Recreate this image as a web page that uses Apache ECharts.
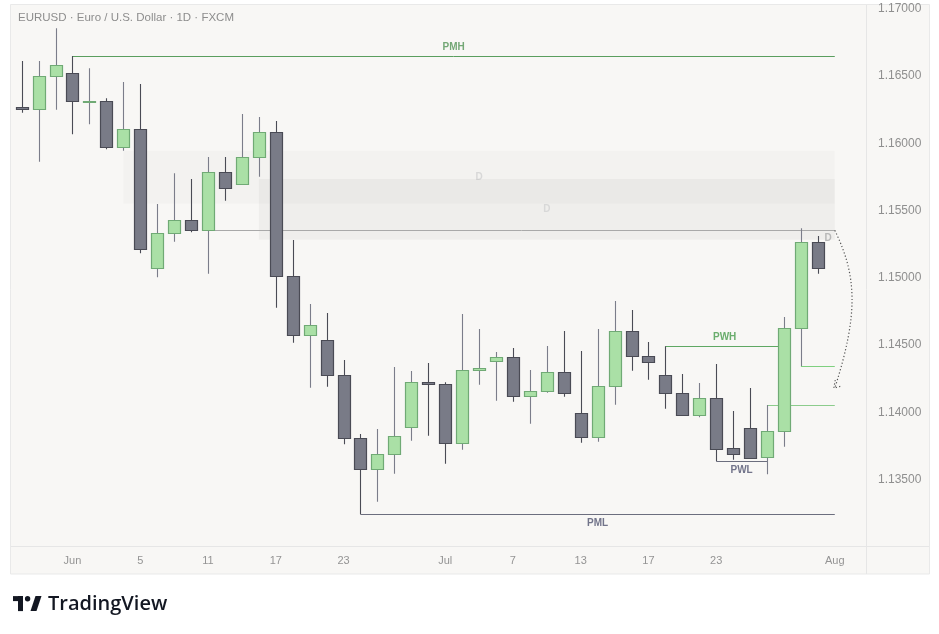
<!DOCTYPE html>
<html>
<head>
<meta charset="utf-8">
<script src="https://cdn.jsdelivr.net/npm/echarts@6/dist/echarts.min.js"></script>
<style>
html,body{margin:0;padding:0;background:#ffffff;}
#chart{width:939px;height:634px;}
</style>
</head>
<body>
<div id="chart"></div>
<script>
// ---- categories (trading days) ----
const dates = [
 '2026-05-27','2026-05-28','2026-05-29',
 '2026-06-01','2026-06-02','2026-06-03','2026-06-04','2026-06-05',
 '2026-06-08','2026-06-09','2026-06-10','2026-06-11','2026-06-12',
 '2026-06-15','2026-06-16','2026-06-17','2026-06-18','2026-06-19',
 '2026-06-22','2026-06-23','2026-06-24','2026-06-25','2026-06-26',
 '2026-06-29','2026-06-30','2026-07-01','2026-07-02','2026-07-03',
 '2026-07-06','2026-07-07','2026-07-08','2026-07-09','2026-07-10',
 '2026-07-13','2026-07-14','2026-07-15','2026-07-16','2026-07-17',
 '2026-07-20','2026-07-21','2026-07-22','2026-07-23','2026-07-24',
 '2026-07-27','2026-07-28','2026-07-29','2026-07-30','2026-07-31',
 '2026-08-03','2026-08-04'
];
// ---- OHLC ----
const opens  = [1.16267,1.16252,1.16498,1.16520,1.16313,1.16312,1.15970,1.16104,1.15071,1.15331,1.15428,1.15353,1.15784,1.15695,1.15896,1.16082,1.15011,1.14573,1.14536,1.14276,1.13808,1.13577,1.13689,1.13889,1.14224,1.14209,1.13770,1.14313,1.14380,1.14410,1.14120,1.14157,1.14298,1.13993,1.13815,1.14194,1.14603,1.14417,1.14276,1.14142,1.13979,1.14105,1.13733,1.13882,1.13666,1.13860,1.14625,1.15264];
const highs  = [1.16611,1.16611,1.16854,1.16649,1.16557,1.16334,1.16455,1.16440,1.15549,1.15777,1.15734,1.15898,1.15898,1.16218,1.16195,1.16166,1.15281,1.14806,1.14739,1.14389,1.13840,1.13877,1.14337,1.14308,1.14367,1.14224,1.14731,1.14620,1.14449,1.14479,1.14315,1.14494,1.14605,1.14456,1.14620,1.14828,1.14761,1.14523,1.14491,1.14285,1.14219,1.14360,1.14010,1.14181,1.14055,1.14709,1.15368,1.15311];
const lows   = [1.16227,1.15863,1.16249,1.16067,1.16141,1.15955,1.15945,1.15182,1.15004,1.15269,1.15338,1.15031,1.15573,1.15690,1.15752,1.14778,1.14518,1.14184,1.14191,1.13763,1.13243,1.13336,1.13545,1.13790,1.13827,1.13619,1.13723,1.14206,1.14087,1.14080,1.13916,1.14146,1.14117,1.13775,1.13782,1.14057,1.14310,1.14243,1.14028,1.13976,1.13964,1.13639,1.13649,1.13660,1.13540,1.13745,1.14345,1.15031];
const closes = [1.16252,1.16498,1.16579,1.16314,1.16315,1.15970,1.16104,1.15212,1.15331,1.15428,1.15353,1.15784,1.15665,1.15896,1.16082,1.15011,1.14573,1.14647,1.14276,1.13808,1.13577,1.13689,1.13822,1.14224,1.14209,1.13770,1.14313,1.14328,1.14410,1.14120,1.14157,1.14298,1.14142,1.13815,1.14194,1.14603,1.14417,1.14372,1.14142,1.13979,1.14105,1.13730,1.13689,1.13663,1.13860,1.14625,1.15264,1.15071];

// ---- x tick labels ----
const tickDates = ['2026-06-01','2026-06-05','2026-06-11','2026-06-17','2026-06-23','2026-07-01','2026-07-07','2026-07-13','2026-07-17','2026-07-23','2026-08-03'];
const tickTexts = ['Jun','5','11','17','23','Jul','7','13','17','23','Aug'];

// ---- y axis ----
const yMin = 1.13, yMax = 1.17, yStep = 0.005;

// ---- horizontal levels ----
const levelLabels = ['PMH','D','PML','PWH','PWL','',''];
const levelStart  = ['2026-06-01','2026-06-11','2026-06-24','2026-07-20','2026-07-23','2026-07-28','2026-07-30'];
const levelEnd    = ['2026-08-03','2026-08-03','2026-08-03','2026-07-29','2026-07-28','2026-08-03','2026-08-03'];
const levelPrices = [1.16649,1.15353,1.13243,1.14491,1.13639,1.14055,1.14345];

// ---- zones ----
const zoneLabels = ['D','D'];
const zoneStart  = ['2026-06-04','2026-06-16'];
const zoneEnd    = ['2026-08-03','2026-08-03'];
const zoneTop    = [1.15945,1.15734];
const zoneBottom = [1.15551,1.15283];

// ---- projected move arrow ----
const arrowDate = '2026-08-03';
const arrowFrom = 1.15353;
const arrowTo   = 1.14181;

// ---- styles ----
const levelStyles = [
  {color:'#5a9e5e', width:1, pos:'midTop',  text:'#74a876'},
  {color:'#a9a9a9', width:1, pos:'endBottom', text:'#b8b8b8'},
  {color:'#6c6e7e', width:1.2, pos:'midBottom', text:'#72748a'},
  {color:'#5fa863', width:1, pos:'midTop', text:'#6aad6d'},
  {color:'#6c6e7e', width:1, pos:'midBottom', text:'#72748a'},
  {color:'#8ccc8c', width:1, pos:'none', text:'#8ccc8c'},
  {color:'#7fd07f', width:1, pos:'none', text:'#7fd07f'}
];
const zoneFills = ['rgba(0,0,0,0.018)','rgba(0,0,0,0.034)'];
const FONT = 'Liberation Sans, Arial, sans-serif';

const candleData = opens.map((o,i)=>[i,o,closes[i],lows[i],highs[i]]);
const levelData = levelPrices.map((p,i)=>[dates.indexOf(levelStart[i]), dates.indexOf(levelEnd[i]), p, i]);
const zoneData = zoneTop.map((t,i)=>[dates.indexOf(zoneStart[i]), dates.indexOf(zoneEnd[i]), t, zoneBottom[i], i]);
const arrowData = [[dates.indexOf(arrowDate), arrowFrom, arrowTo]];

const chart = echarts.init(document.getElementById('chart'), null, {renderer:'canvas'});

const option = {
  backgroundColor:'#ffffff',
  animation:false,
  title:{
    text:'EURUSD · Euro / U.S. Dollar · 1D · FXCM',
    left:18, top:12, padding:0,
    textStyle:{fontFamily:FONT, fontSize:11.5, fontWeight:'normal', color:'#8d8d8d'}
  },
  grid:{left:13.2, right:78.8, top:8.7, bottom:87, containLabel:false},
  xAxis:{
    type:'category', data:dates, boundaryGap:true,
    axisLine:{show:false}, axisTick:{show:false}, splitLine:{show:false},
    axisLabel:{
      interval:(idx,val)=>tickDates.indexOf(val)>=0,
      formatter:(val)=>{const k=tickDates.indexOf(val);return k>=0?tickTexts[k]:'';},
      color:'#949494', fontSize:11, fontFamily:FONT, margin:8
    }
  },
  yAxis:{
    type:'value', position:'right', min:yMin, max:yMax, interval:yStep, scale:true,
    axisLine:{show:false}, axisTick:{show:false}, splitLine:{show:false},
    axisLabel:{
      formatter:(v)=>v.toFixed(5), showMinLabel:false, showMaxLabel:true,
      color:'#8f8f8f', fontSize:12, fontFamily:FONT, margin:17.8
    }
  },
  graphic:[
    {type:'rect', z:-10, silent:true, shape:{x:10.5,y:4.5,width:919,height:569.5}, style:{fill:'#f8f7f5', stroke:'#e9e9e9', lineWidth:1}},
    {type:'line', z:-9, silent:true, shape:{x1:866.5,y1:5,x2:866.5,y2:574}, style:{stroke:'#e6e6e6', lineWidth:1}},
    {type:'line', z:-9, silent:true, shape:{x1:11,y1:546.5,x2:929,y2:546.5}, style:{stroke:'#e6e6e6', lineWidth:1}},
    // TradingView logo
    {type:'group', left:13, top:596, silent:true, children:[
      {type:'rect', shape:{x:0,y:0,width:10,height:5}, style:{fill:'#131722'}},
      {type:'rect', shape:{x:5,y:0,width:5,height:15}, style:{fill:'#131722'}},
      {type:'circle', shape:{cx:14.6,cy:2.6,r:2.7}, style:{fill:'#131722'}},
      {type:'polygon', shape:{points:[[17.5,15],[22.5,0],[28.5,0],[23.5,15]]}, style:{fill:'#131722'}}
    ]},
    {type:'text', silent:true, style:{text:'TradingView', x:48, y:604, verticalAlign:'middle', font:'600 20px "Open Sans", sans-serif', fill:'#131722'}}
  ],
  series:[
    { // zones
      type:'custom', z:1, silent:true, data:zoneData, clip:true,
      renderItem:(params, api)=>{
        const a = api.coord([api.value(0), api.value(2)]);
        const b = api.coord([api.value(1), api.value(3)]);
        const i = api.value(4);
        return {type:'group', children:[
          {type:'rect', shape:{x:a[0], y:a[1], width:b[0]-a[0], height:b[1]-a[1]}, style:{fill:zoneFills[i]}},
          {type:'text', style:{text:zoneLabels[i], x:(a[0]+b[0])/2, y:(a[1]+b[1])/2, align:'center', verticalAlign:'middle', font:'bold 10px '+FONT, fill:'#d8d8d8'}}
        ]};
      }
    },
    { // levels
      type:'custom', z:2, silent:true, data:levelData, clip:true,
      renderItem:(params, api)=>{
        const i = api.value(3);
        const a = api.coord([api.value(0), api.value(2)]);
        const b = api.coord([api.value(1), api.value(2)]);
        const st = levelStyles[i];
        const y = Math.round(a[1]) + 0.5;
        const ch = [{type:'line', shape:{x1:a[0], y1:y, x2:b[0], y2:y}, style:{stroke:st.color, lineWidth:st.width}}];
        const f = 'bold 10px '+FONT;
        if (st.pos==='midTop') ch.push({type:'text', style:{text:levelLabels[i], x:(a[0]+b[0])/2, y:y-9, align:'center', verticalAlign:'middle', font:f, fill:st.text}});
        if (st.pos==='midBottom') ch.push({type:'text', style:{text:levelLabels[i], x:(a[0]+b[0])/2, y:y+8.5, align:'center', verticalAlign:'middle', font:f, fill:st.text}});
        if (st.pos==='endBottom') ch.push({type:'text', style:{text:levelLabels[i], x:b[0]-3, y:y+8, align:'right', verticalAlign:'middle', font:f, fill:st.text}});
        return {type:'group', children:ch};
      }
    },
    { // candles
      type:'custom', z:3, silent:true, data:candleData, clip:true,
      renderItem:(params, api)=>{
        const idx = api.value(0), o = api.value(1), c = api.value(2), l = api.value(3), h = api.value(4);
        const po = api.coord([idx, o]), pc = api.coord([idx, c]), pl = api.coord([idx, l]), ph = api.coord([idx, h]);
        const cx = Math.round(po[0]);
        const up = c >= o;
        const top = Math.round(Math.min(po[1], pc[1])) + 0.5;
        const bot = Math.round(Math.max(po[1], pc[1])) + 0.5;
        const hgt = Math.max(bot - top, 1);
        return {type:'group', children:[
          {type:'line', shape:{x1:cx+0.5, y1:ph[1], x2:cx+0.5, y2:pl[1]}, style:{stroke: up ? '#7b7d8a' : '#4a4b55', lineWidth:1.1}},
          {type:'rect', shape:{x:cx-5.5, y:top, width:12, height:hgt}, style:{fill: up ? '#aae0a6' : '#797b87', stroke: up ? '#70aa75' : '#4a4b55', lineWidth:1.2}}
        ]};
      }
    },
    { // projected-move arrow
      type:'custom', z:4, silent:true, data:arrowData, clip:false,
      renderItem:(params, api)=>{
        const p0 = api.coord([api.value(0), api.value(1)]);
        const p1 = api.coord([api.value(0), api.value(2)]);
        const st = {stroke:'#555555', lineWidth:1.2, lineDash:[1.2,2.2], fill:null};
        return {type:'group', children:[
          {type:'bezierCurve', shape:{x1:p0[0], y1:p0[1], cpx1:p0[0]+22, cpy1:p0[1]+45, cpx2:p0[0]+24, cpy2:p1[1]-75, x2:p1[0], y2:p1[1]}, style:st},
          {type:'polyline', shape:{points:[[p1[0]+0.5,p1[1]-8],[p1[0]-1,p1[1]],[p1[0]+7,p1[1]-2]]}, style:st}
        ]};
      }
    }
  ]
};
chart.setOption(option);
</script>
</body>
</html>
